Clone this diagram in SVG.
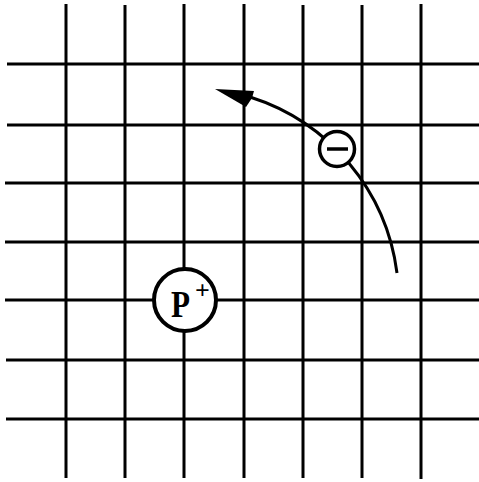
<svg xmlns="http://www.w3.org/2000/svg" width="479" height="482" viewBox="0 0 479 482">
<style>
.g{stroke:#000;stroke-width:3;fill:none;stroke-linecap:butt}
.c{fill:#fff;stroke:#000}
.t{font-family:"Liberation Serif",serif;font-weight:bold;fill:#000}
</style>
<rect width="479" height="482" fill="#fff"/>
<g id="grid" class="g">
<line x1="66" y1="4" x2="66" y2="478"/>
<line x1="125" y1="5" x2="125" y2="478"/>
<line x1="184" y1="4" x2="184" y2="478"/>
<line x1="244" y1="4" x2="244" y2="478"/>
<line x1="303" y1="5" x2="303" y2="478"/>
<line x1="362" y1="5" x2="362" y2="478"/>
<line x1="421" y1="4" x2="421" y2="479"/>
<line x1="7" y1="64" x2="479" y2="64"/>
<line x1="7" y1="125" x2="479" y2="125"/>
<line x1="5" y1="183" x2="479" y2="183"/>
<line x1="5" y1="242" x2="479" y2="242"/>
<line x1="5" y1="300" x2="479" y2="300"/>
<line x1="6" y1="360" x2="479" y2="360"/>
<line x1="6" y1="419" x2="479" y2="419"/>
</g>
<g id="connectors">
<path d="M397 273 A213 213 0 0 0 250 97" fill="none" stroke="#000" stroke-width="3"/>
<polygon points="215,89 254,91 252,98 246,107" fill="#000"/>
</g>
<g id="proton">
<circle class="c" cx="185" cy="300" r="31" stroke-width="4"/>
<text class="t" x="171" y="317" font-size="38" transform="translate(171 0) scale(0.82 1) translate(-171 0)">P</text>
<text class="t" x="195" y="299" font-size="26">+</text>
</g>
<g id="electron">
<circle class="c" cx="337" cy="149" r="17.5" stroke-width="3.5"/>
<line x1="327" y1="149" x2="348" y2="149" stroke="#000" stroke-width="3.5"/>
</g>
</svg>
